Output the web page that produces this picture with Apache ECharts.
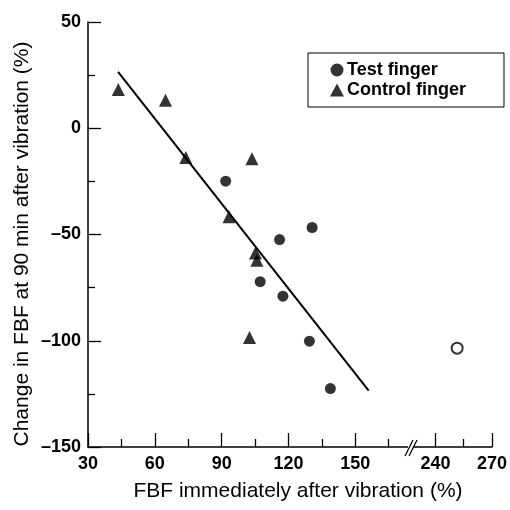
<!DOCTYPE html>
<html><head><meta charset="utf-8">
<script src="https://cdn.jsdelivr.net/npm/echarts@6/dist/echarts.min.js"></script>
<style>html,body{margin:0;padding:0;background:#fff}#c{width:510px;height:510px}</style>
</head><body><div id="c"></div>
<script>
// ---- data ----
const testX = [91.8, 130.6, 116, 107.3, 117.5, 129.4, 138.8];
const testY = [-24.9, -46.7, -52.4, -72.2, -79, -100.2, -122.5];
const controlX = [43.6, 64.8, 73.9, 103.6, 93.3, 105.2, 105.8, 102.5];
const controlY = [18.2, 13.2, -13.8, -14.4, -41.7, -58.7, -62.1, -98.5];
const outlierX = [251.5];
const outlierY = [-103.5];
const fitX = [43.5, 156];
const fitY = [26.5, -123.5];
const xTicksLeft = [30, 60, 90, 120, 150];
const xMinorLeft = [45, 75, 105, 135, 165];
const xTicksRight = [240, 270];
const xMinorRight = [255];
const xLeftRange = [30, 175];
const xRightRange = [227, 270];
const yRange = [-150, 50];
const yInterval = 50;
const seriesNames = ['Test finger', 'Control finger'];
const xTitle = 'FBF immediately after vibration (%)';
const yTitle = 'Change in FBF at 90 min after vibration (%)';

const zip = (a, b) => a.map((v, i) => [v, b[i]]);
const FONT = '"Liberation Sans", Arial, Helvetica, sans-serif';
const dash = v => String(v).replace('-', '\u2013');

const chart = echarts.init(document.getElementById('c'), null, {renderer: 'canvas'});
const axisLine = {show: true, onZero: false, lineStyle: {color: '#000', width: 1.5}};
const noLine = {show: false, onZero: false};
const labelStyle = {color: '#000', fontFamily: FONT, fontWeight: 'bold', fontSize: 18};
const tickLine = {color: '#000', width: 1.3};

const option = {
  animation: false,
  backgroundColor: '#fff',
  grid: [
    {left: 88, top: 22, width: 323, height: 425},
    {left: 411, top: 22, width: 84.5, height: 425}
  ],
  xAxis: [
    {type: 'value', gridIndex: 0, position: 'bottom', min: xLeftRange[0], max: xLeftRange[1], interval: 30,
     axisLine: axisLine, splitLine: {show: false},
     axisTick: {inside: true, length: 14, lineStyle: tickLine, customValues: xTicksLeft},
     axisLabel: Object.assign({margin: 8, customValues: xTicksLeft}, labelStyle)},
    {type: 'value', gridIndex: 0, position: 'bottom', min: xLeftRange[0], max: xLeftRange[1],
     axisLine: noLine, splitLine: {show: false}, axisLabel: {show: false},
     axisTick: {inside: true, length: 8, lineStyle: tickLine, customValues: xMinorLeft}},
    {type: 'value', gridIndex: 1, position: 'bottom', min: xRightRange[0], max: xRightRange[1],
     axisLine: axisLine, splitLine: {show: false},
     axisTick: {inside: true, length: 14, lineStyle: tickLine, customValues: xTicksRight},
     axisLabel: Object.assign({margin: 8, customValues: xTicksRight}, labelStyle)},
    {type: 'value', gridIndex: 1, position: 'bottom', min: xRightRange[0], max: xRightRange[1],
     axisLine: noLine, splitLine: {show: false}, axisLabel: {show: false},
     axisTick: {inside: true, length: 8, lineStyle: tickLine, customValues: xMinorRight}}
  ],
  yAxis: [
    {type: 'value', gridIndex: 0, position: 'left', min: yRange[0], max: yRange[1], interval: yInterval,
     axisLine: axisLine, splitLine: {show: false},
     axisTick: {inside: true, length: 13, lineStyle: tickLine},
     minorTick: {show: true, splitNumber: 2, length: 7, lineStyle: tickLine},
     axisLabel: Object.assign({margin: 7, formatter: dash}, labelStyle)},
    {type: 'value', gridIndex: 1, min: yRange[0], max: yRange[1], interval: yInterval, show: false}
  ],
  legend: {
    orient: 'vertical', left: 308, top: 53,
    padding: [8, 38, 8, 22], itemGap: 2, itemWidth: 14, itemHeight: 13,
    borderColor: '#000', borderWidth: 1, backgroundColor: '#fff',
    textStyle: {color: '#000', fontFamily: FONT, fontWeight: 'bold', fontSize: 18, padding: [0, 0, 0, -2]},
    data: [{name: seriesNames[0], icon: 'circle'}, {name: seriesNames[1], icon: 'triangle'}]
  },
  graphic: [
    {type: 'text', x: 298, y: 491,
     style: {text: xTitle, fill: '#000', font: '21px ' + FONT, textAlign: 'center', textVerticalAlign: 'middle'}},
    {type: 'text', x: 22, y: 244, rotation: Math.PI / 2,
     style: {text: yTitle, fill: '#000', font: '21px ' + FONT, textAlign: 'center', textVerticalAlign: 'middle'}}
  ],
  series: [
    {name: seriesNames[0], type: 'scatter', xAxisIndex: 0, yAxisIndex: 0, symbol: 'circle', symbolSize: 11,
     itemStyle: {color: '#000'}, data: zip(testX, testY), z: 3},
    {name: seriesNames[1], type: 'scatter', xAxisIndex: 0, yAxisIndex: 0, symbol: 'triangle', symbolSize: 13,
     itemStyle: {color: '#000'}, data: zip(controlX, controlY), z: 3},
    {name: 'fit', type: 'line', xAxisIndex: 0, yAxisIndex: 0, symbol: 'none',
     lineStyle: {color: '#000', width: 2}, data: zip(fitX, fitY), z: 2},
    {name: 'excluded', type: 'scatter', xAxisIndex: 2, yAxisIndex: 1, symbol: 'emptyCircle', symbolSize: 11,
     itemStyle: {color: '#000', borderColor: '#000', borderWidth: 1.2}, data: zip(outlierX, outlierY)}
  ]
};
chart.setOption(option);

// break marks on the x axis, positioned from the axis scale
const bx = chart.convertToPixel({xAxisIndex: 0}, xLeftRange[1]);
const by = chart.convertToPixel({yAxisIndex: 0}, yRange[0]);
chart.setOption({graphic: option.graphic.concat([
  {type: 'rect', shape: {x: bx - 3, y: by - 3, width: 5, height: 6}, style: {fill: '#fff'}, z: 10},
  {type: 'line', shape: {x1: bx - 6, y1: by + 9, x2: bx + 2, y2: by - 7}, style: {stroke: '#000', lineWidth: 1.3}, z: 11},
  {type: 'line', shape: {x1: bx - 2, y1: by + 9, x2: bx + 6, y2: by - 7}, style: {stroke: '#000', lineWidth: 1.3}, z: 11}
])});
</script></body></html>
